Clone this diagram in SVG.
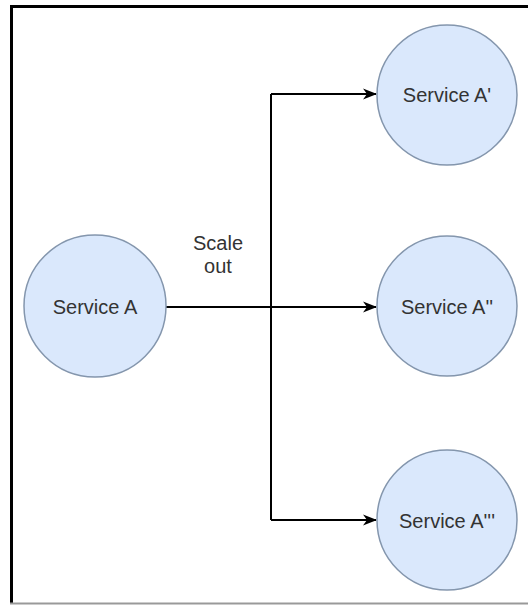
<svg xmlns="http://www.w3.org/2000/svg" width="528" height="605" viewBox="0 0 528 605">
<style>
.n{fill:#dae8fc;stroke:#8496ad;stroke-width:1.5}
.t{font-family:"Liberation Sans",Arial,sans-serif;font-size:20px;fill:#333;text-anchor:middle}
.c{fill:none;stroke:#000;stroke-width:2}
</style>
<defs>
<marker id="ah" markerWidth="14" markerHeight="12" refX="13" refY="6" orient="auto" markerUnits="userSpaceOnUse">
<path d="M0,0.5 L14,6 L0,11.5 L4,6 Z" fill="#000"/>
</marker>
</defs>
<rect width="528" height="605" fill="#fff"/>
<g id="frame">
<line x1="10" y1="6.5" x2="528" y2="6.5" stroke="#000" stroke-width="3"/>
<line x1="11.5" y1="5" x2="11.5" y2="604" stroke="#000" stroke-width="3"/>
<line x1="10" y1="603.5" x2="528" y2="603.5" stroke="#999" stroke-width="2"/>
</g>
<g id="connectors">
<path class="c" d="M166,307 H376" marker-end="url(#ah)"/>
<path class="c" d="M271,94 V520"/>
<path class="c" d="M271,94 H376" marker-end="url(#ah)"/>
<path class="c" d="M271,520 H376" marker-end="url(#ah)"/>
</g>
<g id="serviceA">
<circle class="n" cx="95" cy="306" r="71"/>
<text class="t" x="95" y="314">Service A</text>
</g>
<g id="label">
<text class="t" x="218" y="250">Scale</text>
<text class="t" x="218" y="273">out</text>
</g>
<g id="serviceA1">
<circle class="n" cx="447" cy="95" r="70"/>
<text class="t" x="447" y="102">Service A'</text>
</g>
<g id="serviceA2">
<circle class="n" cx="447" cy="306" r="70"/>
<text class="t" x="447" y="314">Service A''</text>
</g>
<g id="serviceA3">
<circle class="n" cx="447" cy="520" r="70"/>
<text class="t" x="447" y="528">Service A'''</text>
</g>
</svg>
